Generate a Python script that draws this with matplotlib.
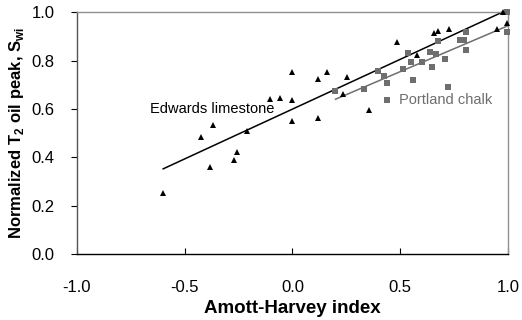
import matplotlib
matplotlib.use("Agg")
import matplotlib.pyplot as plt
import numpy as np

plt.rcParams['font.family'] = ['Liberation Sans', 'DejaVu Sans']
plt.rcParams['mathtext.fontset'] = 'custom'
plt.rcParams['mathtext.rm'] = 'Liberation Sans'
plt.rcParams['mathtext.bf'] = 'Liberation Sans:bold'

# Edwards limestone (triangles)
edwards_x = [-0.599, -0.425, -0.370, -0.381, -0.273, -0.256, -0.213, -0.105, -0.059,
             0.0, 0.0, 0.0, 0.117, 0.159, 0.117, 0.253, 0.233, 0.355, 0.483,
             0.579, 0.656, 0.676, 0.728, 0.948, 0.975, 0.998]
edwards_y = [0.252, 0.484, 0.533, 0.359, 0.388, 0.423, 0.510, 0.641, 0.645,
             0.755, 0.638, 0.550, 0.725, 0.755, 0.565, 0.735, 0.663, 0.597, 0.877,
             0.825, 0.913, 0.925, 0.931, 0.931, 1.0, 0.956]

# Portland chalk (squares)
portland_x = [0.199, 0.330, 0.397, 0.423, 0.438, 0.438, 0.511, 0.537, 0.551, 0.559,
              0.599, 0.637, 0.650, 0.667, 0.677, 0.706, 0.721, 0.778, 0.798, 0.807,
              0.807, 0.998, 0.998]
portland_y = [0.673, 0.684, 0.757, 0.736, 0.709, 0.639, 0.768, 0.834, 0.793, 0.722,
              0.797, 0.837, 0.776, 0.829, 0.880, 0.807, 0.692, 0.887, 0.887, 0.919,
              0.845, 1.0, 0.921]

# trend lines: (slope, intercept, x start, x end)
edwards_fit = (0.412, 0.600, -0.60, 0.97)
portland_fit = (0.380, 0.565, 0.20, 1.0)

x_ticks = [-1.0, -0.5, 0.0, 0.5, 1.0]
y_ticks = [0.0, 0.2, 0.4, 0.6, 0.8, 1.0]

gray = '#6e6e6e'

fig = plt.figure(figsize=(5.22, 3.2), dpi=100)
ax = fig.add_axes([0.1475, 0.206, 0.8255, 0.755])

for (m, b, x0, x1), col in [(edwards_fit, 'black'), (portland_fit, gray)]:
    xs = np.array([x0, x1])
    ax.plot(xs, m * xs + b, color=col, lw=1.1, clip_on=False, zorder=2)

ax.plot(portland_x, portland_y, 's', color=gray, ms=4.3, mew=0,
        clip_on=False, zorder=3)
ax.plot(edwards_x, edwards_y, '^', color='black', ms=4.6, mew=0,
        clip_on=False, zorder=4)

ax.text(-0.373, 0.60, 'Edwards limestone', fontsize=10.5, color='black',
        ha='center', va='center')
ax.text(0.495, 0.638, 'Portland chalk', fontsize=10.5, color=gray,
        ha='left', va='center')

ax.set_xlim(-1, 1)
ax.set_ylim(0, 1)
ax.set_xticks(x_ticks)
ax.set_yticks(y_ticks)
ax.set_xticklabels(['%.1f' % v for v in x_ticks])
ax.set_yticklabels(['%.1f' % v for v in y_ticks])
ax.tick_params(axis='x', direction='in', length=4, labelsize=12, pad=19)
ax.tick_params(axis='y', direction='out', length=4, labelsize=12, pad=12)

ax.spines['bottom'].set_color('black')
ax.spines['left'].set_color('#555555')
ax.spines['top'].set_color('#909090')
ax.spines['right'].set_color('#909090')
for s in ax.spines.values():
    s.set_linewidth(1.0)

ax.set_xlabel('Amott-Harvey index', fontsize=13.5, fontweight='bold', labelpad=3)
ax.set_ylabel(r'Normalized T$_\mathbf{2}$ oil peak, S$_\mathbf{wi}$',
              fontsize=12, fontweight='bold', labelpad=4)

fig.savefig('out.png', dpi=100)
